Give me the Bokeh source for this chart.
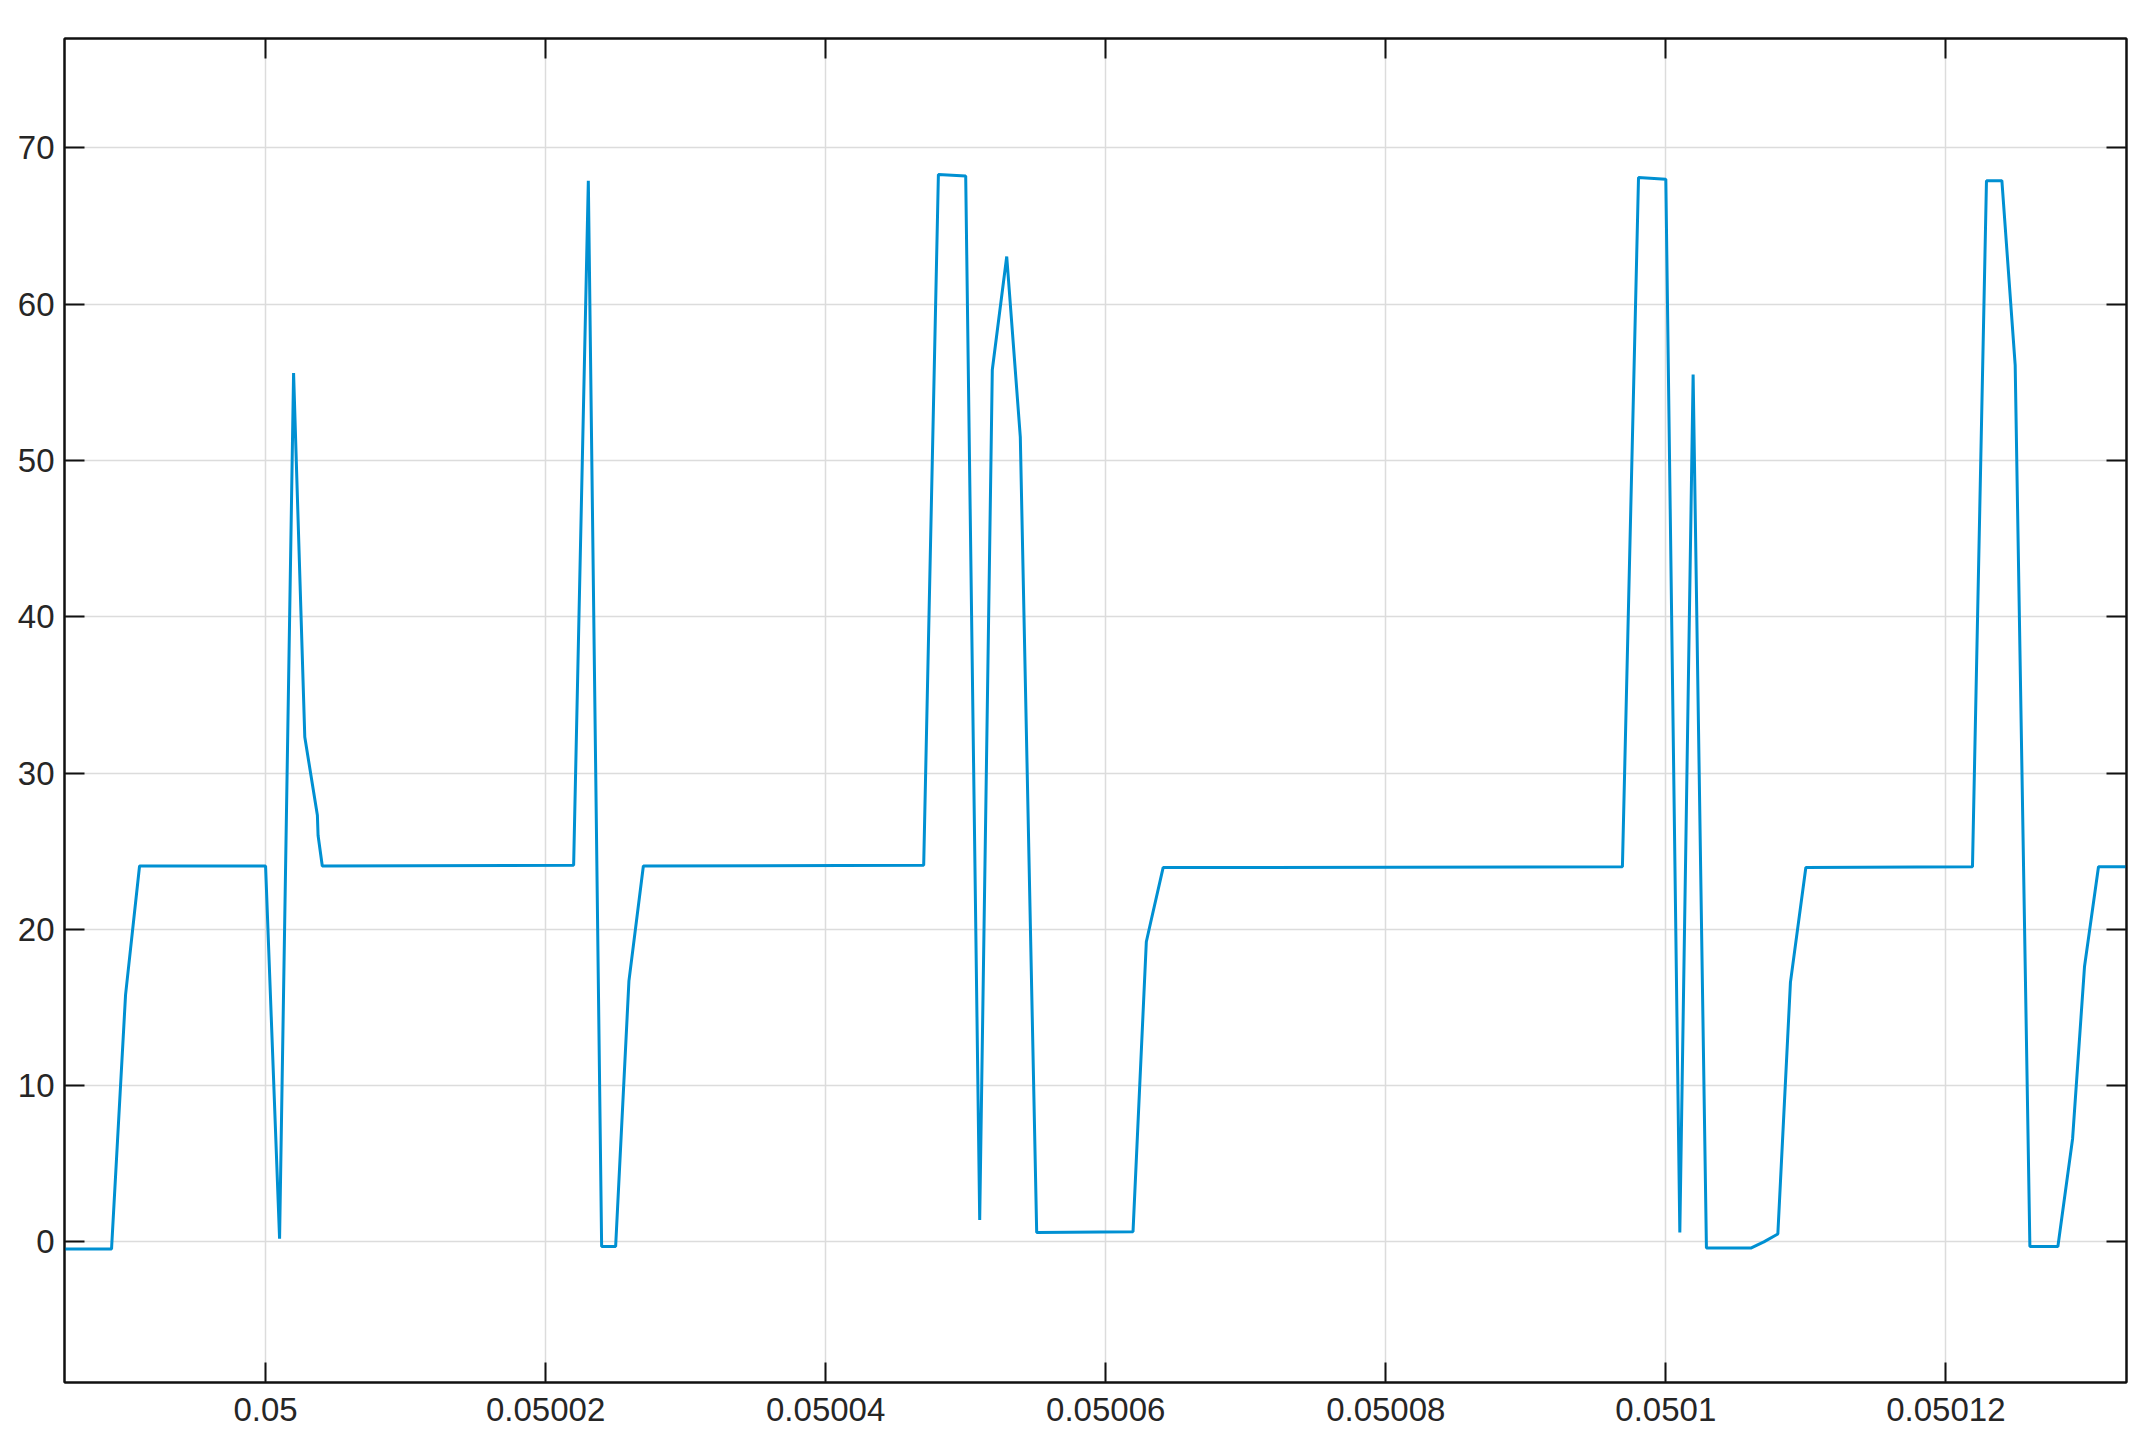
from bokeh.plotting import figure
from bokeh.models import FixedTicker, LinearAxis, Range1d, CustomJSTickFormatter
from bokeh.embed import file_html
from bokeh.resources import INLINE
import numpy as np

# ---- data ----
t_base = 0.05  # seconds
t_offset_us = [
    -14.5, -11.0, -10.0, -9.0,
    0.0, 1.0, 2.0, 2.8, 3.7, 3.75, 4.05,
    22.0, 23.05, 24.0, 25.0, 25.95, 26.98,
    47.0, 48.05, 50.0, 51.0, 51.9, 52.93, 53.9, 55.07, 61.95, 62.9, 63.2, 64.1,
    96.9, 98.05, 100.0, 101.0, 101.95, 102.9, 106.07, 107.0, 108.0, 108.9, 110.0,
    121.9, 122.9, 124.0, 124.95, 126.0, 128.0, 129.05, 129.9, 130.9, 133.5,
]
voltage = [
    -0.45, -0.45, 15.8, 24.05,
    24.05, 0.2, 55.6, 32.3, 27.3, 26.0, 24.05,
    24.1, 67.9, -0.3, -0.3, 16.7, 24.05,
    24.1, 68.3, 68.2, 1.4, 55.8, 63.05, 51.5, 0.6, 0.65, 19.2, 20.4, 23.95,
    24.0, 68.1, 68.0, 0.6, 55.5, -0.4, -0.4, 0.0, 0.5, 16.6, 23.95,
    24.0, 67.9, 67.9, 56.1, -0.3, -0.3, 6.6, 17.6, 24.0, 24.0,
]

xtick_values = [0.05, 0.05002, 0.05004, 0.05006, 0.05008, 0.0501, 0.05012]
xtick_labels = ["0.05", "0.05002", "0.05004", "0.05006", "0.05008", "0.0501", "0.05012"]
ytick_values = [0, 10, 20, 30, 40, 50, 60, 70]
ytick_labels = ["0", "10", "20", "30", "40", "50", "60", "70"]

x_limits = (0.04998564, 0.0501329)
y_limits = (-9.0, 77.0)

t = t_base + np.array(t_offset_us) * 1e-6
v = np.array(voltage)

FONT = "Liberation Sans"
TXT = "#262626"
FRAME = "#111111"

p = figure(width=2136, height=1438, output_backend="svg", toolbar_location=None,
           x_range=Range1d(*x_limits), y_range=Range1d(*y_limits),
           min_border_left=64, min_border_top=38, min_border_right=10, min_border_bottom=56,
           x_axis_location=None, y_axis_location=None)
p.background_fill_color = "white"
p.border_fill_color = "white"
p.outline_line_color = FRAME
p.outline_line_width = 2

xt = FixedTicker(ticks=xtick_values, minor_ticks=[])
yt = FixedTicker(ticks=ytick_values, minor_ticks=[])

def style(ax, ticker, labels=None, standoff=10, blank=False):
    ax.ticker = ticker
    ax.axis_line_color = FRAME
    ax.axis_line_width = 2
    ax.major_tick_line_color = FRAME
    ax.major_tick_line_width = 2
    ax.major_tick_in = 20
    ax.major_tick_out = 0
    ax.minor_tick_line_color = None
    ax.major_label_text_font = FONT
    ax.major_label_text_color = TXT
    if blank:
        ax.formatter = CustomJSTickFormatter(code="return '';")
        ax.major_label_text_font_size = "1px"
        ax.major_label_standoff = 0
    else:
        ax.major_label_text_font_size = "33px"
        ax.major_label_standoff = standoff
        ax.major_label_overrides = labels

bottom = LinearAxis()
style(bottom, xt, dict(zip(xtick_values, xtick_labels)), standoff=15)
left = LinearAxis()
style(left, yt, dict(zip(ytick_values, ytick_labels)), standoff=10)
top = LinearAxis()
style(top, xt, blank=True)
right = LinearAxis()
style(right, yt, blank=True)
p.add_layout(bottom, "below")
p.add_layout(left, "left")
p.add_layout(top, "above")
p.add_layout(right, "right")

p.xgrid.ticker = xt
p.ygrid.ticker = yt
for g in (p.xgrid, p.ygrid):
    g.grid_line_color = "#dcdcdc"
    g.grid_line_width = 1.5

p.line(t, v, line_color="#0090d2", line_width=3)

open("out.html", "w").write(file_html(p, INLINE))
